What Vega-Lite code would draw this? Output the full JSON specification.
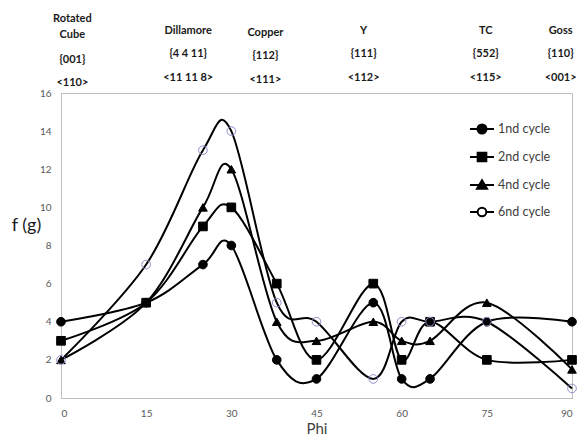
{
  "$schema": "https://vega.github.io/schema/vega-lite/v6.json",
  "padding": {"left": 10, "top": 0, "right": 14, "bottom": 0},
  "bounds": "flush",
  "spacing": 0,
  "config": {
    "font": "Lato",
    "background": "white"
  },
  "datasets": {
    "labels": [
      {"phi": 2, "row": 0.5, "label": "Rotated"},
      {"phi": 2, "row": 1.2, "label": "Cube"},
      {"phi": 2, "row": 2.25, "label": "{001}"},
      {"phi": 2, "row": 3.25, "label": "<110>"},
      {"phi": 22.4, "row": 1, "label": "Dillamore"},
      {"phi": 22.4, "row": 2, "label": "{4 4 11}"},
      {"phi": 22.4, "row": 3, "label": "<11 11 8>"},
      {"phi": 36, "row": 1.1, "label": "Copper"},
      {"phi": 36, "row": 2.1, "label": "{112}"},
      {"phi": 36, "row": 3.1, "label": "<111>"},
      {"phi": 53.3, "row": 1, "label": "Y"},
      {"phi": 53.3, "row": 2, "label": "{111}"},
      {"phi": 53.3, "row": 3, "label": "<112>"},
      {"phi": 74.8, "row": 1, "label": "TC"},
      {"phi": 74.8, "row": 2, "label": "{552}"},
      {"phi": 74.8, "row": 3, "label": "<115>"},
      {"phi": 88, "row": 1, "label": "Goss"},
      {"phi": 88, "row": 2, "label": "{110}"},
      {"phi": 88, "row": 3, "label": "<001>"}
    ],
    "f": [
      {"series": "1nd cycle", "phi": 0, "f": 4},
      {"series": "1nd cycle", "phi": 15, "f": 5},
      {"series": "1nd cycle", "phi": 25, "f": 7},
      {"series": "1nd cycle", "phi": 30, "f": 8},
      {"series": "1nd cycle", "phi": 38, "f": 2},
      {"series": "1nd cycle", "phi": 45, "f": 1},
      {"series": "1nd cycle", "phi": 55, "f": 5},
      {"series": "1nd cycle", "phi": 60, "f": 1},
      {"series": "1nd cycle", "phi": 65, "f": 1},
      {"series": "1nd cycle", "phi": 75, "f": 4},
      {"series": "1nd cycle", "phi": 90, "f": 4},
      {"series": "2nd cycle", "phi": 0, "f": 3},
      {"series": "2nd cycle", "phi": 15, "f": 5},
      {"series": "2nd cycle", "phi": 25, "f": 9},
      {"series": "2nd cycle", "phi": 30, "f": 10},
      {"series": "2nd cycle", "phi": 38, "f": 6},
      {"series": "2nd cycle", "phi": 45, "f": 2},
      {"series": "2nd cycle", "phi": 55, "f": 6},
      {"series": "2nd cycle", "phi": 60, "f": 2},
      {"series": "2nd cycle", "phi": 65, "f": 4},
      {"series": "2nd cycle", "phi": 75, "f": 2},
      {"series": "2nd cycle", "phi": 90, "f": 2},
      {"series": "4nd cycle", "phi": 0, "f": 2},
      {"series": "4nd cycle", "phi": 15, "f": 5},
      {"series": "4nd cycle", "phi": 25, "f": 10},
      {"series": "4nd cycle", "phi": 30, "f": 12},
      {"series": "4nd cycle", "phi": 38, "f": 4},
      {"series": "4nd cycle", "phi": 45, "f": 3},
      {"series": "4nd cycle", "phi": 55, "f": 4},
      {"series": "4nd cycle", "phi": 60, "f": 3},
      {"series": "4nd cycle", "phi": 65, "f": 3},
      {"series": "4nd cycle", "phi": 75, "f": 5},
      {"series": "4nd cycle", "phi": 90, "f": 1.5},
      {"series": "6nd cycle", "phi": 0, "f": 2},
      {"series": "6nd cycle", "phi": 15, "f": 7},
      {"series": "6nd cycle", "phi": 25, "f": 13},
      {"series": "6nd cycle", "phi": 30, "f": 14},
      {"series": "6nd cycle", "phi": 38, "f": 5},
      {"series": "6nd cycle", "phi": 45, "f": 4},
      {"series": "6nd cycle", "phi": 55, "f": 1},
      {"series": "6nd cycle", "phi": 60, "f": 4},
      {"series": "6nd cycle", "phi": 65, "f": 4},
      {"series": "6nd cycle", "phi": 75, "f": 4},
      {"series": "6nd cycle", "phi": 90, "f": 0.5}
    ]
  },
  "vconcat": [
    {
      "width": 511,
      "height": 93,
      "view": {"stroke": null},
      "data": {"name": "labels"},
      "mark": {"type": "text", "fontWeight": "bold", "fontSize": 11, "baseline": "middle", "align": "center", "color": "#1a1a1a"},
      "encoding": {
        "x": {"field": "phi", "type": "quantitative", "scale": {"domain": [0, 90], "nice": false}, "axis": null},
        "y": {"field": "row", "type": "quantitative", "scale": {"domain": [-0.3, 3.66], "reverse": true, "nice": false, "zero": false}, "axis": null},
        "text": {"field": "label"}
      }
    },
    {
      "width": 511,
      "height": 305,
      "view": {"stroke": "#bfbfbf"},
      "data": {"name": "f"},
      "encoding": {
        "x": {
          "field": "phi", "type": "quantitative",
          "scale": {"domain": [0, 90], "nice": false},
          "axis": {
            "values": [0, 15, 30, 45, 60, 75, 90], "grid": false, "ticks": false,
            "labelColor": "#595959", "labelFontSize": 10, "labelPadding": 10,
            "domainColor": "#bfbfbf", "title": "Phi", "titleFontSize": 15,
            "titleFontWeight": "normal", "titleColor": "#404040", "titlePadding": 3
          }
        },
        "y": {
          "field": "f", "type": "quantitative",
          "scale": {"domain": [0, 16], "nice": false},
          "axis": {
            "values": [0, 2, 4, 6, 8, 10, 12, 14, 16], "grid": false, "ticks": false,
            "labelColor": "#595959", "labelFontSize": 10, "labelPadding": 10,
            "domainColor": "#bfbfbf", "title": "f (g)", "titleAngle": 0,
            "titleFontSize": 18, "titleFontWeight": "normal", "titleColor": "#1a1a1a",
            "titleX": -35, "titleY": 132, "titleAlign": "center", "titleBaseline": "middle"
          }
        }
      },
      "resolve": {"scale": {"shape": "independent", "fill": "independent", "stroke": "independent"}},
      "layer": [
        {
          "mark": {"type": "line", "interpolate": "cardinal", "color": "black", "strokeWidth": 2},
          "encoding": {"detail": {"field": "series"}}
        },
        {
          "mark": {"type": "point", "size": 75, "strokeWidth": 1, "opacity": 1},
          "encoding": {
            "shape": {
              "field": "series", "type": "nominal",
              "scale": {"domain": ["1nd cycle", "2nd cycle", "4nd cycle", "6nd cycle"], "range": ["circle", "square", "triangle-up", "circle"]},
              "legend": null
            },
            "fill": {
              "field": "series", "type": "nominal",
              "scale": {"domain": ["1nd cycle", "2nd cycle", "4nd cycle", "6nd cycle"], "range": ["black", "black", "black", "transparent"]},
              "legend": null
            },
            "stroke": {
              "field": "series", "type": "nominal",
              "scale": {"domain": ["1nd cycle", "2nd cycle", "4nd cycle", "6nd cycle"], "range": ["black", "black", "black", "#8f8fcc"]},
              "legend": null
            }
          }
        },
        {
          "mark": {"type": "point", "opacity": 0, "stroke": "black", "strokeWidth": 2},
          "encoding": {
            "shape": {
              "field": "series", "type": "nominal",
              "scale": {
                "domain": ["1nd cycle", "2nd cycle", "4nd cycle", "6nd cycle"],
                "range": [
                  "M-1,0H1M0.375,0A0.375,0.375,0,1,1,-0.375,0A0.375,0.375,0,1,1,0.375,0Z",
                  "M-1,0H1M-0.36,-0.36H0.36V0.36H-0.36Z",
                  "M-1,0H1M0,-0.4L0.42,0.32H-0.42Z",
                  "M-1,0H-0.36M0.36,0H1M0.36,0A0.36,0.36,0,1,1,-0.36,0A0.36,0.36,0,1,1,0.36,0Z"
                ]
              },
              "legend": {
                "title": null, "orient": "none", "legendX": 408, "legendY": 23, "padding": 0,
                "symbolSize": 576, "symbolStrokeWidth": 2, "symbolOpacity": 1, "rowPadding": 6,
                "labelFontSize": 12.5, "labelColor": "#404040", "labelOffset": 3
              }
            },
            "fill": {
              "field": "series", "type": "nominal",
              "scale": {"domain": ["1nd cycle", "2nd cycle", "4nd cycle", "6nd cycle"], "range": ["black", "black", "black", "transparent"]},
              "legend": null
            }
          }
        }
      ]
    }
  ]
}
